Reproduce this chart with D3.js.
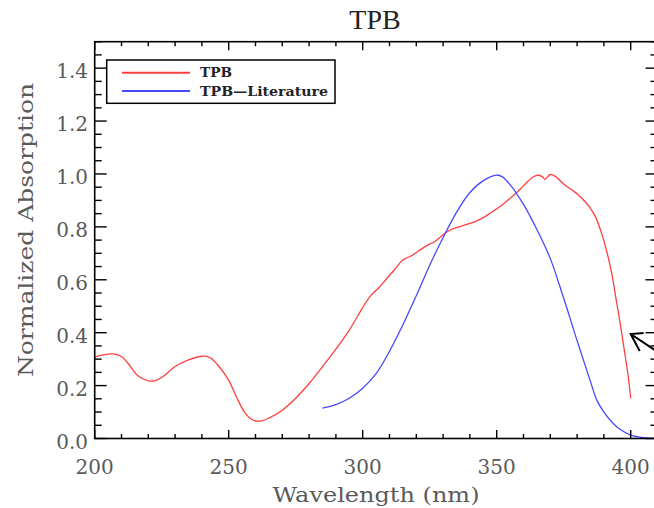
<!DOCTYPE html>
<html>
<head>
<meta charset="utf-8">
<script src="https://cdn.jsdelivr.net/npm/d3@7"></script>
<style>
  body { margin: 0; background: #fff; }
  svg { display: block; }
</style>
</head>
<body>
<div id="chart"></div>
<script>

// TPB measured absorption (normalized)
var tpbWave = [200, 203, 207, 210, 213, 216, 220, 223, 226, 230, 235, 240, 243, 246, 250, 253, 256, 259, 262,
  265, 270, 275, 280, 285, 290, 295, 300, 303, 306, 309, 312, 315, 318, 321, 324, 327, 330, 333, 336, 339,
  342, 345, 348, 351, 354, 357, 360, 363, 365, 367, 368, 370, 372, 375, 378, 380, 383, 385, 387, 389, 391,
  393, 394.5, 396, 397.6, 399, 400];
var tpbVal = [0.308, 0.316, 0.32, 0.31, 0.277, 0.238, 0.218, 0.22, 0.238, 0.272, 0.297, 0.311, 0.306, 0.277,
  0.22, 0.155, 0.098, 0.07, 0.066, 0.077, 0.107, 0.152, 0.208, 0.272, 0.338, 0.41, 0.495, 0.54, 0.57, 0.605,
  0.64, 0.675, 0.69, 0.71, 0.73, 0.745, 0.77, 0.79, 0.8, 0.81, 0.82, 0.835, 0.855, 0.875, 0.9, 0.925, 0.955,
  0.985, 0.995, 0.99, 0.98, 0.998, 0.99, 0.962, 0.94, 0.925, 0.895, 0.87, 0.835, 0.78, 0.71, 0.62, 0.53,
  0.44, 0.335, 0.24, 0.152];

// literature spectrum
var litWave = [285, 290, 295, 300, 305, 310, 315, 320, 325, 330, 335, 340, 345, 350, 352, 355, 360, 365,
  370, 375, 380, 385, 387.3, 390, 393.5, 396, 400, 405, 410];
var litVal = [0.115, 0.128, 0.152, 0.19, 0.245, 0.33, 0.43, 0.54, 0.655, 0.76, 0.855, 0.93, 0.975, 0.996,
  0.99, 0.96, 0.885, 0.79, 0.68, 0.53, 0.37, 0.215, 0.146, 0.1, 0.057, 0.035, 0.013, 0.003, 0.0];

var xMajor = [200, 250, 300, 350, 400];
var yMajor = [0.0, 0.2, 0.4, 0.6, 0.8, 1.0, 1.2, 1.4];
var seriesNames = ["TPB", "TPB\u2014Literature"];
var seriesColors = ["#ff4040", "#4848ff"];

var W = 654, H = 508;
var svg = d3.select("#chart").append("svg")
  .attr("width", W)
  .attr("height", H);

var x = d3.scaleLinear().domain([200, 410]).range([94.7, 657.5]);
var y = d3.scaleLinear().domain([0, 1.5]).range([438.5, 41.7]);

var tickColor = "#000";
var labelColor = "#5a5a5a";

// curves
var line = d3.line()
  .x(function(d) { return x(d[0]); })
  .y(function(d) { return y(d[1]); })
  .curve(d3.curveCatmullRom);

var tpbData = tpbWave.map(function(w, i) { return [w, tpbVal[i]]; });
var litData = litWave.map(function(w, i) { return [w, litVal[i]]; });

svg.append("path").datum(tpbData)
  .attr("d", line)
  .attr("fill", "none")
  .attr("stroke", seriesColors[0])
  .attr("stroke-width", 1.3);

svg.append("path").datum(litData)
  .attr("d", line)
  .attr("fill", "none")
  .attr("stroke", seriesColors[1])
  .attr("stroke-width", 1.3);

// frame
var x0 = x.range()[0], x1 = x.range()[1], y0 = y.range()[0], y1 = y.range()[1];
svg.append("rect")
  .attr("x", x0).attr("y", y1)
  .attr("width", x1 - x0).attr("height", y0 - y1)
  .attr("fill", "none")
  .attr("stroke", "#000")
  .attr("stroke-width", 1.6);

// x ticks (bottom + top), inward
var xMinor = d3.range(200, 411, 10);
xMinor.forEach(function(v) {
  var major = xMajor.indexOf(v) >= 0;
  var len = major ? 8.5 : 4.5;
  svg.append("line").attr("x1", x(v)).attr("x2", x(v))
    .attr("y1", y0).attr("y2", y0 - len)
    .attr("stroke", tickColor).attr("stroke-width", 1.4);
  svg.append("line").attr("x1", x(v)).attr("x2", x(v))
    .attr("y1", y1).attr("y2", y1 + len)
    .attr("stroke", tickColor).attr("stroke-width", 1.4);
});

// y ticks (left + right)
var yMinor = d3.range(0, 31).map(function(i) { return i * 0.05; });
yMinor.forEach(function(v, i) {
  var major = i % 4 == 0;
  var len = major ? 12 : 7;
  svg.append("line").attr("x1", x0).attr("x2", x0 + len)
    .attr("y1", y(v)).attr("y2", y(v))
    .attr("stroke", tickColor).attr("stroke-width", 1.4);
  svg.append("line").attr("x1", x1).attr("x2", x1 - len)
    .attr("y1", y(v)).attr("y2", y(v))
    .attr("stroke", tickColor).attr("stroke-width", 1.4);
});

// tick labels
svg.selectAll(".xlab").data(xMajor).enter().append("text")
  .attr("class", "xlab")
  .attr("x", function(d) { return x(d); })
  .attr("y", y0 + 35)
  .attr("text-anchor", "middle")
  .attr("font-family", "DejaVu Serif")
  .attr("font-size", 20)
  .attr("fill", labelColor)
  .text(function(d) { return d; });

svg.selectAll(".ylab").data(yMajor).enter().append("text")
  .attr("class", "ylab")
  .attr("x", 88)
  .attr("y", function(d) { return y(d) + 10; })
  .attr("text-anchor", "end")
  .attr("font-family", "DejaVu Serif")
  .attr("font-size", 20)
  .attr("fill", labelColor)
  .text(function(d) { return d.toFixed(1); });

// titles
svg.append("text")
  .attr("x", 375).attr("y", 29)
  .attr("text-anchor", "middle")
  .attr("font-family", "Liberation Serif")
  .attr("font-size", 28)
  .attr("fill", "#222")
  .text("TPB");

svg.append("text")
  .attr("x", 376).attr("y", 502)
  .attr("text-anchor", "middle")
  .attr("font-family", "DejaVu Serif")
  .attr("font-size", 21)
  .attr("textLength", 207)
  .attr("lengthAdjust", "spacingAndGlyphs")
  .attr("fill", labelColor)
  .text("Wavelength (nm)");

svg.append("text")
  .attr("transform", "translate(33,230) rotate(-90)")
  .attr("text-anchor", "middle")
  .attr("font-family", "DejaVu Serif")
  .attr("font-size", 21)
  .attr("textLength", 294)
  .attr("lengthAdjust", "spacingAndGlyphs")
  .attr("fill", labelColor)
  .text("Normalized Absorption");

// legend
var legend = svg.append("g");
legend.append("rect")
  .attr("x", 106.7).attr("y", 60)
  .attr("width", 228.3).attr("height", 43.3)
  .attr("fill", "#fff")
  .attr("stroke", "#000")
  .attr("stroke-width", 1.5);

var legendY = [72.7, 91];
var legendLen = [32, 128];
seriesNames.forEach(function(name, i) {
  legend.append("line")
    .attr("x1", 122).attr("x2", 190)
    .attr("y1", legendY[i]).attr("y2", legendY[i])
    .attr("stroke", seriesColors[i])
    .attr("stroke-width", 2);
  legend.append("text")
    .attr("x", 200).attr("y", legendY[i] + 4.5)
    .attr("font-family", "DejaVu Serif")
    .attr("font-weight", "bold")
    .attr("font-size", 12.5)
    .attr("textLength", legendLen[i])
    .attr("lengthAdjust", "spacingAndGlyphs")
    .attr("fill", "#222")
    .text(name);
});

// arrow annotation near the red edge
var tipX = x(400), tipY = y(0.395);
svg.append("path")
  .attr("d", "M" + (tipX + 24) + "," + (tipY + 16) + "L" + tipX + "," + tipY +
    "M" + (tipX + 13) + "," + (tipY - 1) + "L" + tipX + "," + tipY + "L" + (tipX + 9) + "," + (tipY + 17))
  .attr("fill", "none")
  .attr("stroke", "#000")
  .attr("stroke-width", 2);

</script>
</body>
</html>
